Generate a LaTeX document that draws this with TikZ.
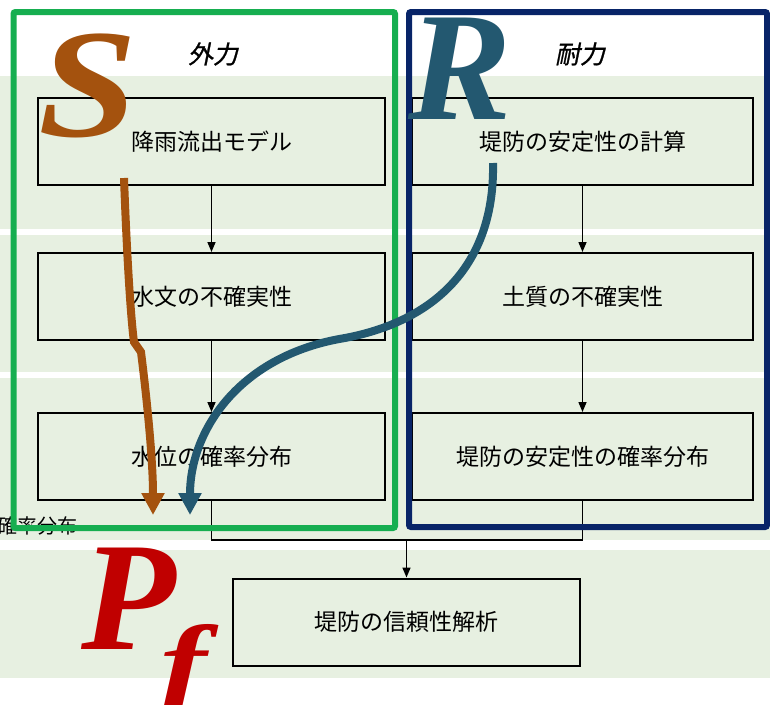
\documentclass[tikz,border=0pt]{standalone}
\usepackage{fontspec}
\usetikzlibrary{arrows.meta}
\newfontfamily\jp{Noto Sans CJK JP}
\newfontfamily\jpit[FakeSlant=0.2,FakeBold=1]{Noto Sans CJK JP}
\newfontfamily\bigserif{Liberation Serif}
\definecolor{bandgreen}{RGB}{231,240,225}
\definecolor{framegreen}{RGB}{22,174,80}
\definecolor{framenavy}{RGB}{8,36,104}
\definecolor{sbrown}{RGB}{164,82,14}
\definecolor{rteal}{RGB}{35,88,112}
\definecolor{pred}{RGB}{192,0,0}
\begin{document}
\begin{tikzpicture}[x=1pt,y=-1pt,
  box/.style={draw=black,line width=2pt,minimum width=347pt,minimum height=87pt,inner sep=0pt,font=\jp\fontsize{23}{27}\selectfont},
  rbox/.style={box,minimum width=341pt},
  flow/.style={draw=black,line width=1.5pt},
  flowarrow/.style={flow,-{Triangle[width=8pt,length=10pt]}},
  frame/.style={line width=6pt,rounded corners=2pt},
  heading/.style={font=\jpit\fontsize{25}{29}\selectfont,inner sep=0pt},
  bigletter/.style={font=\bigserif\bfseries\itshape\fontsize{155}{155}\selectfont,inner sep=0pt,anchor=base west},
  bigcurve/.style={line width=8pt,-{Triangle[width=22pt,length=22pt]}}
]
\useasboundingbox (0,0) rectangle (770,704);
\fill[white] (0,0) rectangle (770,704);
% background bands
\fill[bandgreen] (0,76) rectangle (770,229);
\fill[bandgreen] (0,235) rectangle (770,372);
\fill[bandgreen] (0,378) rectangle (770,540);
\fill[bandgreen] (0,550) rectangle (770,678);
% boxes
\node[box]  (b1) at (211.5,141.5) {降雨流出モデル};
\node[box]  (b2) at (211.5,296.5) {水文の不確実性};
\node[box]  (b3) at (211.5,456.5) {水位の確率分布};
\node[rbox] (b4) at (582.5,141.5) {堤防の安定性の計算};
\node[rbox] (b5) at (582.5,296.5) {土質の不確実性};
\node[rbox] (b6) at (582.5,456.5) {堤防の安定性の確率分布};
\node[box]  (b7) at (406.5,622) {堤防の信頼性解析};
% connectors
\draw[flowarrow] (b1) -- (b2);
\draw[flowarrow] (b2) -- (b3);
\draw[flowarrow] (b4) -- (b5);
\draw[flowarrow] (b5) -- (b6);
\coordinate (m) at (406.5,540);
\draw[flow] (b3.south) |- (m);
\draw[flow] (b6.south) |- (m);
\draw[flowarrow] (m) -- (b7);
% stray label
\node[font=\jp\fontsize{20}{24}\selectfont,inner sep=0pt,anchor=west] (stray) at (-3,526) {確率分布};
% frames
\draw[frame,draw=framegreen] (13.5,12) rectangle (395,528);
\draw[frame,draw=framenavy] (409,12) rectangle (767,527);
% headings
\node[heading] (h1) at (213,54) {外力};
\node[heading] (h2) at (580,54) {耐力};
% big letters
\node[bigletter,text=sbrown] (S) at (38,136) {\scalebox{1.15}[1]{S}};
\node[bigletter,text=rteal] (R) at (408,119) {R};
\node[bigletter,text=pred] (P) at (81,649) {P};
\node[bigletter,text=pred,font=\bigserif\bfseries\itshape\fontsize{108}{108}\selectfont] (f) at (160,700) {\scalebox{1.3}[1]{f}};
% curves
\coordinate (s0) at (124,178);
\coordinate (s1) at (153,515);
\coordinate (r0) at (493,163);
\coordinate (r1) at (190,515);
\draw[bigcurve,draw=sbrown] (s0) .. controls (127,260) and (131,320) .. (134,342) -- (141,352) .. controls (147,400) and (153,460) .. (s1);
\draw[bigcurve,draw=rteal] (r0) .. controls (495,260) and (440,320) .. (345,338) .. controls (240,355) and (190,430) .. (r1);
\end{tikzpicture}
\end{document}
